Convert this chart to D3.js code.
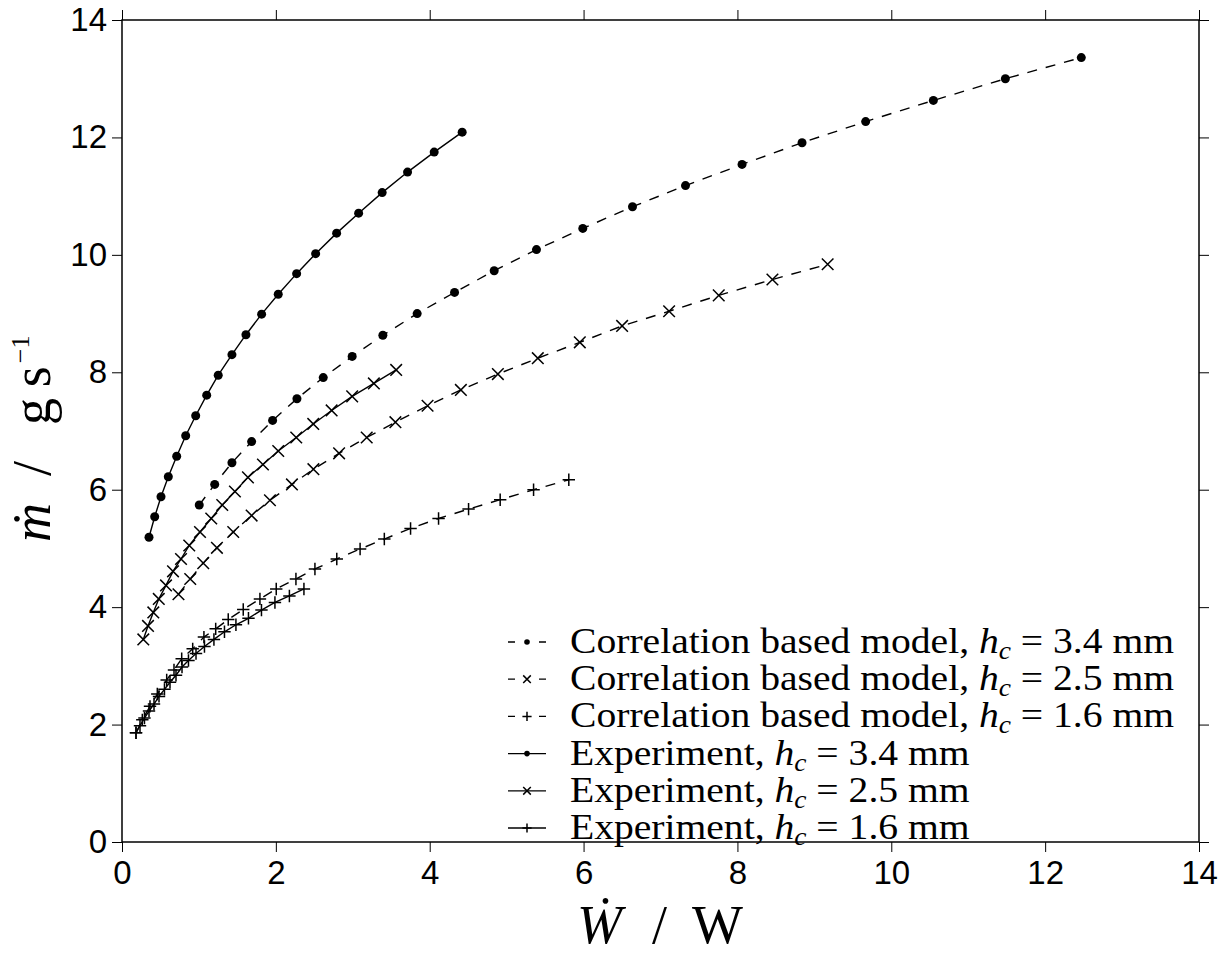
<!DOCTYPE html>
<html>
<head>
<meta charset="utf-8">
<script src="https://cdn.jsdelivr.net/npm/d3@7"></script>
<style>
  body { margin: 0; background: #fff; }
</style>
</head>
<body>
<svg id="chart" width="1226" height="955"></svg>
<script>
const xTicks = [0, 2, 4, 6, 8, 10, 12, 14];
const yTicks = [0, 2, 4, 6, 8, 10, 12, 14];

// correlation based model, hc = 3.4 mm
const model34W = [1.004, 1.205, 1.429, 1.685, 1.958, 2.274, 2.616, 2.992, 3.391, 3.837, 4.323, 4.838, 5.388, 5.990, 6.636, 7.325, 8.060, 8.840, 9.667, 10.547, 11.483, 12.470];
const model34M = [5.74, 6.09, 6.46, 6.82, 7.18, 7.55, 7.91, 8.27, 8.63, 9.00, 9.36, 9.73, 10.09, 10.45, 10.82, 11.18, 11.54, 11.91, 12.27, 12.63, 13.00, 13.36];

// correlation based model, hc = 2.5 mm
const model25W = [0.734, 0.887, 1.056, 1.234, 1.446, 1.685, 1.923, 2.209, 2.488, 2.822, 3.181, 3.554, 3.972, 4.405, 4.886, 5.405, 5.951, 6.501, 7.112, 7.757, 8.455, 9.173];
const model25M = [4.22, 4.48, 4.75, 5.01, 5.28, 5.56, 5.82, 6.09, 6.35, 6.62, 6.89, 7.15, 7.43, 7.70, 7.97, 8.24, 8.51, 8.79, 9.04, 9.31, 9.58, 9.84];

// correlation based model, hc = 1.6 mm
const model16W = [0.182, 0.264, 0.364, 0.459, 0.581, 0.676, 0.776, 0.919, 1.065, 1.218, 1.381, 1.576, 1.793, 2.005, 2.261, 2.508, 2.792, 3.095, 3.410, 3.751, 4.115, 4.505, 4.916, 5.350, 5.808];
const model16M = [1.86, 2.08, 2.31, 2.52, 2.76, 2.93, 3.12, 3.29, 3.49, 3.63, 3.79, 3.96, 4.14, 4.31, 4.48, 4.65, 4.82, 4.99, 5.16, 5.34, 5.51, 5.67, 5.83, 6.00, 6.17];

// experiment, hc = 3.4 mm
const exp34W = [0.351, 0.425, 0.507, 0.602, 0.711, 0.828, 0.958, 1.101, 1.251, 1.429, 1.611, 1.815, 2.031, 2.270, 2.517, 2.790, 3.076, 3.382, 3.712, 4.058, 4.422];
const exp34M = [5.19, 5.54, 5.88, 6.22, 6.57, 6.92, 7.26, 7.61, 7.95, 8.30, 8.64, 8.99, 9.33, 9.68, 10.02, 10.37, 10.71, 11.06, 11.41, 11.75, 12.09];

// experiment, hc = 2.5 mm
const exp25W = [0.277, 0.338, 0.407, 0.478, 0.572, 0.663, 0.767, 0.874, 1.014, 1.160, 1.303, 1.468, 1.637, 1.832, 2.031, 2.265, 2.486, 2.725, 2.992, 3.274, 3.564];
const exp25M = [3.45, 3.68, 3.91, 4.14, 4.37, 4.61, 4.82, 5.05, 5.28, 5.51, 5.74, 5.97, 6.21, 6.43, 6.66, 6.89, 7.12, 7.35, 7.59, 7.81, 8.04];

// experiment, hc = 1.6 mm
const exp16W = [0.182, 0.234, 0.292, 0.351, 0.416, 0.481, 0.552, 0.624, 0.702, 0.780, 0.864, 0.962, 1.072, 1.195, 1.332, 1.481, 1.644, 1.813, 1.988, 2.176, 2.365];
const exp16M = [1.86, 1.98, 2.11, 2.23, 2.35, 2.48, 2.60, 2.72, 2.84, 2.98, 3.09, 3.21, 3.33, 3.45, 3.58, 3.70, 3.81, 3.95, 4.08, 4.19, 4.31];

const labelPrefix = ["Correlation based model, ", "Correlation based model, ", "Correlation based model, ",
                     "Experiment, ", "Experiment, ", "Experiment, "];
const labelHeight = ["3.4", "2.5", "1.6", "3.4", "2.5", "1.6"];

const series = [
  { w: model34W, m: model34M, dashed: true, marker: "dot" },
  { w: model25W, m: model25M, dashed: true, marker: "times" },
  { w: model16W, m: model16M, dashed: true, marker: "plus" },
  { w: exp34W, m: exp34M, dashed: false, marker: "dot" },
  { w: exp25W, m: exp25M, dashed: false, marker: "times" },
  { w: exp16W, m: exp16M, dashed: false, marker: "plus" },
];

const margin = { left: 122, right: 1199, top: 20, bottom: 842 };
const x = d3.scaleLinear().domain([0, 14]).range([margin.left, margin.right]);
const y = d3.scaleLinear().domain([0, 14]).range([margin.bottom, margin.top]);

const svg = d3.select("#chart");
const tickFont = "'Liberation Sans', Arial, sans-serif";
const serif = "'Liberation Serif', 'Times New Roman', serif";

function markerPath(type, s) {
  if (type === "times") return `M${-s},${-s}L${s},${s}M${-s},${s}L${s},${-s}`;
  return `M${-s},0L${s},0M0,${-s}L0,${s}`;
}

function drawMarker(g, type, cx, cy, small) {
  if (type === "dot") {
    g.append("circle").attr("cx", cx).attr("cy", cy).attr("r", small ? 2.8 : 4.5).attr("fill", "#000");
  } else {
    const s = type === "times" ? (small ? 3.8 : 5.8) : (small ? 4.6 : 6.2);
    g.append("path")
      .attr("d", markerPath(type, s))
      .attr("transform", `translate(${cx},${cy})`)
      .attr("stroke", "#000")
      .attr("stroke-width", 1.5)
      .attr("fill", "none");
  }
}

// axes
const styleAxis = (g) => {
  g.select(".domain").remove();
  g.selectAll(".tick line").attr("stroke", "#000").attr("stroke-width", 1);
  g.selectAll(".tick text").attr("fill", "#000").style("font-family", tickFont).style("font-size", "33px");
};

svg.append("g")
  .attr("transform", `translate(0,${margin.bottom})`)
  .call(d3.axisBottom(x).tickValues(xTicks).tickSize(10).tickPadding(9).tickFormat(d3.format("d")))
  .call(styleAxis);

svg.append("g")
  .attr("transform", `translate(0,${margin.top})`)
  .call(d3.axisTop(x).tickValues(xTicks).tickSize(10).tickFormat(""))
  .call(styleAxis);

svg.append("g")
  .attr("transform", `translate(${margin.left},0)`)
  .call(d3.axisLeft(y).tickValues(yTicks).tickSize(10).tickPadding(5).tickFormat(d3.format("d")))
  .call(styleAxis);

svg.append("g")
  .attr("transform", `translate(${margin.right},0)`)
  .call(d3.axisRight(y).tickValues(yTicks).tickSize(10).tickFormat(""))
  .call(styleAxis);

svg.append("rect")
  .attr("x", margin.left)
  .attr("y", margin.top)
  .attr("width", margin.right - margin.left)
  .attr("height", margin.bottom - margin.top)
  .attr("fill", "none")
  .attr("stroke", "#000")
  .attr("stroke-width", 1.5);

// series
const line = d3.line().x((d) => x(d[0])).y((d) => y(d[1]));

series.forEach((s) => {
  const pts = s.w.map((w, i) => [w, s.m[i]]);
  svg.append("path")
    .datum(pts)
    .attr("d", line)
    .attr("fill", "none")
    .attr("stroke", "#000")
    .attr("stroke-width", 1.4)
    .attr("stroke-dasharray", s.dashed ? "10,9" : null);
  const g = svg.append("g");
  pts.forEach((p) => drawMarker(g, s.marker, x(p[0]), y(p[1]), false));
});

// legend
const legend = svg.append("g");
series.forEach((s, i) => {
  const base = 653 + i * 37.2;
  const cy = base - 11;
  const lg = legend.append("g");
  lg.append("line")
    .attr("x1", 508).attr("x2", 546)
    .attr("y1", cy).attr("y2", cy)
    .attr("stroke", "#000")
    .attr("stroke-width", 1.3)
    .attr("stroke-dasharray", s.dashed ? "7,24" : null);
  drawMarker(lg, s.marker, 527, cy, true);

  const t = lg.append("text")
    .attr("transform", `translate(570,${base}) scale(1.1,1)`)
    .style("font-family", serif)
    .style("font-size", "36px")
    .attr("fill", "#000");
  t.append("tspan").text(labelPrefix[i]);
  t.append("tspan").style("font-style", "italic").text("h");
  t.append("tspan").style("font-style", "italic").style("font-size", "25px").attr("dy", 6).text("c");
  t.append("tspan").attr("dy", -6).text(" = " + labelHeight[i] + " mm");
});

// axis titles
const xt = svg.append("text")
  .attr("y", 943)
  .style("font-family", serif)
  .style("font-size", "54px")
  .attr("fill", "#000");
xt.append("tspan").attr("x", 577).style("font-style", "italic").text("\u1E86");
xt.append("tspan").attr("x", 652).text("/");
xt.append("tspan").attr("x", 692).text("W");

const yt = svg.append("text")
  .attr("transform", "translate(50,0) rotate(-90)")
  .style("font-family", serif)
  .style("font-size", "54px")
  .attr("fill", "#000");
yt.append("tspan").attr("x", -542).style("font-style", "italic").text("\u1E41");
yt.append("tspan").attr("x", -476).text("/");
yt.append("tspan").attr("x", -425).text("g\u2009s");
yt.append("tspan").style("font-size", "26px").attr("dy", -21).attr("dx", 3).text("\u22121");
</script>
</body>
</html>
